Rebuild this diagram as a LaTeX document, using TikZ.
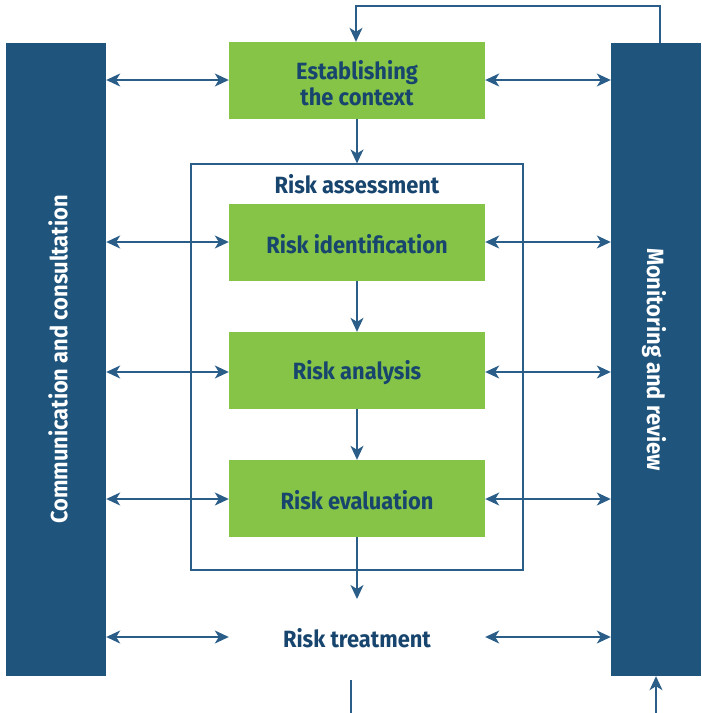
\documentclass[tikz,border=0pt]{standalone}
\usepackage{fontspec}
\setmainfont[FakeStretch=0.93]{Fira Sans}
\usetikzlibrary{arrows.meta}
\definecolor{barblue}{HTML}{1F547D}
\definecolor{txtblue}{HTML}{17456E}
\definecolor{boxgreen}{HTML}{85C446}
\definecolor{lineblue}{HTML}{2A5E88}
\tikzset{lbl/.style={font=\bfseries\fontsize{23.5}{26}\selectfont}}
\begin{document}
\begin{tikzpicture}[x=1pt,y=-1pt,
  bar/.style={fill=barblue,draw=none,minimum width=#1,minimum height=633,inner sep=0},
  gbox/.style={fill=boxgreen,draw=none,minimum width=256,minimum height=77,inner sep=0,
    text=txtblue,lbl,align=center},
  conn/.style={draw=lineblue,line width=1.3pt},
  tip/.tip={Stealth[length=14pt,width=13pt,inset=4pt]},
  arr/.style={conn,-tip},
  darr/.style={conn,tip-tip}]
\useasboundingbox (0,0) rectangle (702,713);
\node[bar=100] (L) at (56,359.5) {};
\node[bar=90] (R) at (656,359.5) {};
\node[rotate=90,text=white,lbl] (Lt) at (58,359.5) {Communication and consultation};
\node[rotate=-90,text=white,lbl] (Rt) at (654,359.5) {Monitoring and review};
\node[draw=lineblue,line width=1.1pt,minimum width=332,minimum height=406,inner sep=0] (F) at (357,367) {};
\node[text=txtblue,lbl] (Ft) at (357,184) {Risk assessment};
\node[gbox] (E) at (357,80.5) {};
\node[text=txtblue,lbl,align=center] (Et) at (357,83) {Establishing\\the context};
\node[gbox] (I) at (357,242.5) {};
\node[text=txtblue,lbl] (It) at (357,244.5) {Risk identification};
\node[gbox] (A) at (357,370.5) {};
\node[text=txtblue,lbl] (At) at (357,372.5) {Risk analysis};
\node[gbox] (V) at (357,498.5) {};
\node[text=txtblue,lbl] (Vt) at (357,500.5) {Risk evaluation};
\node[text=txtblue,lbl,minimum width=256,inner sep=0] (T) at (357,638) {Risk treatment};
% horizontal connectors
\foreach \n/\y in {E/80,I/242,A/372,V/499}{
  \draw[darr] (L.east|-0,\y) -- (\n.west|-0,\y);
  \draw[darr] (\n.east|-0,\y) -- (R.west|-0,\y);
}
\draw[darr] (L.east|-0,637) -- (T.west|-0,637);
\draw[darr] (T.east|-0,637) -- (R.west|-0,637);
% vertical
\draw[arr] (E.south) -- (F.north);
\draw[arr] (I.south) -- (A.north);
\draw[arr] (A.south) -- (V.north);
\coordinate (tt) at (357,599);
\draw[arr] (V.south) -- (tt);
% feedback loop
\coordinate (r1) at (660,6);
\draw[arr] (R.north-|660,0) -- (r1) -| (E.north-|356,0);
% bottom
\coordinate (b1) at (351,680);
\coordinate (b2) at (351,713);
\draw[conn] (b1) -- (b2);
\coordinate (b3) at (656,713);
\draw[arr] (b3) -- (R.south);
\end{tikzpicture}
\end{document}
